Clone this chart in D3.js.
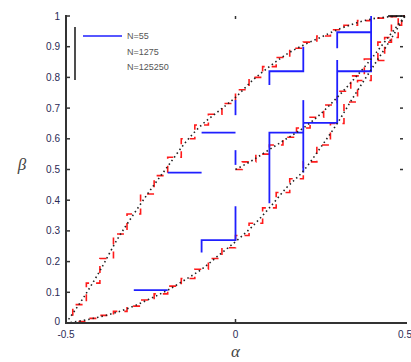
<!DOCTYPE html>
<html>
<head>
<meta charset="utf-8">
<script src="https://cdn.jsdelivr.net/npm/d3@7"></script>
<style>
    body { margin: 0; background: #fff; }
    svg { display: block; }
    .tick-label { font-family: "Liberation Sans", Arial, sans-serif; font-size: 10px; fill: #2a2a55; }
    .axis-title { font-family: "Liberation Serif", "DejaVu Serif", serif; font-style: italic; font-size: 17px; fill: #444; }
    .legend-text { font-family: "Liberation Sans", Arial, sans-serif; font-size: 9px; fill: #555; }
</style>
</head>
<body>
<script>
// Axis ticks
const X_TICKS = [-0.5, 0, 0.5];
const X_TICK_LABELS = ["-0.5", "0", "0.5"];
const Y_TICKS = [0, 0.1, 0.2, 0.3, 0.4, 0.5, 0.6, 0.7, 0.8, 0.9, 1];
const Y_TICK_LABELS = ["0", "0.1", "0.2", "0.3", "0.4", "0.5", "0.6", "0.7", "0.8", "0.9", "1"];

const LEGEND_LABELS = ["N=55", "N=1275", "N=125250"];

// N=125250 (black dotted)
const BLACK_X = [-0.5, -0.45, -0.4, -0.35, -0.3, -0.25, -0.2, -0.15, -0.1, -0.05, 0,
                 0.05, 0.1, 0.15, 0.2, 0.25, 0.3, 0.35, 0.4, 0.45, 0.5];
const BLACK_UPPER = [0, 0.08, 0.17, 0.27, 0.355, 0.435, 0.51, 0.585, 0.645, 0.69, 0.735,
                     0.79, 0.835, 0.875, 0.905, 0.93, 0.955, 0.975, 0.99, 0.997, 1];
const BLACK_LOWER = [0, 0.008, 0.02, 0.035, 0.055, 0.08, 0.107, 0.14, 0.175, 0.22, 0.265,
                     0.315, 0.375, 0.44, 0.495, 0.57, 0.65, 0.74, 0.825, 0.91, 1];
const BLACK_MID_X = [0, 0.05, 0.1, 0.15, 0.2, 0.25, 0.3, 0.35, 0.4, 0.45, 0.5];
const BLACK_MID = [0.5, 0.53, 0.565, 0.6, 0.635, 0.68, 0.735, 0.795, 0.86, 0.93, 1];

// N=1275 (red dashed staircase)
const RED_X = [-0.5, -0.46, -0.42, -0.38, -0.34, -0.3, -0.26, -0.22, -0.18, -0.14, -0.1, -0.06, -0.02,
               0.02, 0.06, 0.1, 0.14, 0.18, 0.22, 0.26, 0.3, 0.34, 0.38, 0.42, 0.46, 0.5];
const RED_UPPER = [0, 0.06, 0.13, 0.21, 0.29, 0.355, 0.42, 0.48, 0.54, 0.6, 0.645, 0.68, 0.715,
                   0.76, 0.8, 0.835, 0.865, 0.895, 0.915, 0.935, 0.955, 0.97, 0.985, 0.993, 0.998, 1];
const RED_LOWER = [0, 0.005, 0.015, 0.025, 0.038, 0.055, 0.075, 0.095, 0.12, 0.145, 0.175, 0.21, 0.245,
                   0.285, 0.325, 0.375, 0.425, 0.47, 0.525, 0.58, 0.65, 0.72, 0.79, 0.855, 0.93, 1];
const RED_MID_X = [0, 0.04, 0.08, 0.12, 0.16, 0.2, 0.24, 0.28, 0.32, 0.36, 0.4, 0.44, 0.48, 0.5];
const RED_MID = [0.5, 0.525, 0.55, 0.58, 0.605, 0.635, 0.67, 0.71, 0.755, 0.805, 0.86, 0.915, 0.97, 1];

// N=55 (blue), drawn as separate pieces
const BLUE_PIECES = [
    [[-0.5, 0], [-0.4, 0]],
    [[-0.3, 0.107], [-0.2, 0.107]],
    [[-0.2, 0.49], [-0.1, 0.49]],
    [[-0.1, 0.23], [-0.1, 0.27], [0, 0.27], [0, 0.38]],
    [[-0.1, 0.62], [0, 0.62]],
    [[0, 0.515], [0, 0.563]],
    [[0, 0.677], [0, 0.726]],
    [[0.1, 0.39], [0.1, 0.62], [0.2, 0.62]],
    [[0.2, 0.49], [0.2, 0.726]],
    [[0.2, 0.652], [0.3, 0.652], [0.3, 0.857]],
    [[0.1, 0.775], [0.1, 0.82], [0.2, 0.82], [0.2, 0.9]],
    [[0.3, 0.82], [0.4, 0.82], [0.4, 1.0]],
    [[0.3, 0.895], [0.3, 0.947], [0.4, 0.947]]
];
const BLACK_TOP = [[0.45, 1], [0.5, 1]];

const WIDTH = 411;
const HEIGHT = 362;
const LEFT = 66, RIGHT = 405, TOP = 16, BOTTOM = 323;

const BLUE = "#1f1fff";
const RED = "#ff1a1a";
const AXIS_COLOR = "#333";

const xScale = d3.scaleLinear().domain([-0.5, 0.5]).range([LEFT, RIGHT]);
const yScale = d3.scaleLinear().domain([0, 1]).range([BOTTOM, TOP]);

const svg = d3.select("body").append("svg")
    .attr("width", WIDTH)
    .attr("height", HEIGHT);

const line = d3.line()
    .x(d => xScale(d[0]))
    .y(d => yScale(d[1]));
// Steps centred on each sample so the red stairs straddle the curves
const stepLine = d3.line()
    .x(d => xScale(d[0]))
    .y(d => yScale(d[1]))
    .curve(d3.curveStep);

const zip = (xs, ys) => xs.map((x, i) => [x, ys[i]]);

// Red staircases
const redSeries = [zip(RED_X, RED_UPPER), zip(RED_X, RED_LOWER), zip(RED_MID_X, RED_MID)];
svg.append("g").selectAll("path")
    .data(redSeries)
    .join("path")
    .attr("d", stepLine)
    .attr("fill", "none")
    .attr("stroke", RED)
    .attr("stroke-width", 1.6)
    .attr("stroke-dasharray", "7,7");

// Blue pieces
svg.append("g").selectAll("path")
    .data(BLUE_PIECES)
    .join("path")
    .attr("d", line)
    .attr("fill", "none")
    .attr("stroke", BLUE)
    .attr("stroke-width", 1.8);

// Black dotted curves
const blackSeries = [zip(BLACK_X, BLACK_UPPER), zip(BLACK_X, BLACK_LOWER), zip(BLACK_MID_X, BLACK_MID)];
svg.append("g").selectAll("path")
    .data(blackSeries)
    .join("path")
    .attr("d", d3.line().x(d => xScale(d[0])).y(d => yScale(d[1])).curve(d3.curveMonotoneX))
    .attr("fill", "none")
    .attr("stroke", "#222")
    .attr("stroke-width", 1.6)
    .attr("stroke-dasharray", "1.5,3");

svg.append("path")
    .attr("d", line(BLACK_TOP))
    .attr("fill", "none")
    .attr("stroke", "#111")
    .attr("stroke-width", 1.6);

// Axes: left and bottom lines with inward ticks
const axes = svg.append("g").attr("stroke", AXIS_COLOR);
axes.append("line")
    .attr("x1", LEFT).attr("x2", LEFT)
    .attr("y1", TOP - 1).attr("y2", BOTTOM + 1)
    .attr("stroke-width", 2);
axes.append("line")
    .attr("x1", LEFT - 1).attr("x2", RIGHT + 2)
    .attr("y1", BOTTOM).attr("y2", BOTTOM)
    .attr("stroke-width", 2);

axes.selectAll(".ytick-l")
    .data(Y_TICKS)
    .join("line")
    .attr("x1", LEFT).attr("x2", LEFT + 4)
    .attr("y1", d => yScale(d)).attr("y2", d => yScale(d))
    .attr("stroke-width", 1.5);
axes.selectAll(".ytick-r")
    .data(Y_TICKS.slice(5, 10))
    .join("line")
    .attr("x1", RIGHT - 5).attr("x2", RIGHT - 2)
    .attr("y1", d => yScale(d)).attr("y2", d => yScale(d))
    .attr("stroke-width", 1.5);
axes.selectAll(".xtick")
    .data(X_TICKS.slice(1, 2))
    .join("line")
    .attr("x1", d => xScale(d)).attr("x2", d => xScale(d))
    .attr("y1", BOTTOM).attr("y2", BOTTOM - 4)
    .attr("stroke-width", 1.5);
axes.selectAll(".xtick-top")
    .data(X_TICKS.slice(1, 2))
    .join("line")
    .attr("x1", d => xScale(d)).attr("x2", d => xScale(d))
    .attr("y1", TOP).attr("y2", TOP + 3)
    .attr("stroke-width", 1.5);

// Tick labels
svg.selectAll(".ylab")
    .data(Y_TICKS)
    .join("text")
    .attr("class", "tick-label")
    .attr("x", LEFT - 6)
    .attr("y", d => yScale(d) + (d === 0 ? 2 : 3.5))
    .attr("text-anchor", "end")
    .text((d, i) => Y_TICK_LABELS[i]);
svg.selectAll(".xlab")
    .data(X_TICKS)
    .join("text")
    .attr("class", "tick-label")
    .attr("x", d => xScale(d))
    .attr("y", BOTTOM + 15)
    .attr("text-anchor", "middle")
    .text((d, i) => X_TICK_LABELS[i]);

// Axis titles
svg.append("text")
    .attr("class", "axis-title")
    .attr("x", 22).attr("y", (TOP + BOTTOM) / 2)
    .attr("text-anchor", "middle")
    .text("β");
svg.append("text")
    .attr("class", "axis-title")
    .attr("x", xScale(0)).attr("y", 357)
    .attr("text-anchor", "middle")
    .text("α");

// Legend
const legend = svg.append("g");
legend.append("line")
    .attr("x1", 75).attr("x2", 75)
    .attr("y1", 27).attr("y2", 80)
    .attr("stroke", "#222").attr("stroke-width", 1.6);
legend.append("line")
    .attr("x1", 83).attr("x2", 122)
    .attr("y1", 36).attr("y2", 36)
    .attr("stroke", BLUE).attr("stroke-width", 1.6);
legend.selectAll("text")
    .data(LEGEND_LABELS)
    .join("text")
    .attr("class", "legend-text")
    .attr("x", 127)
    .attr("y", (d, i) => 39 + i * 15.5)
    .text(d => d);
</script>
</body>
</html>
